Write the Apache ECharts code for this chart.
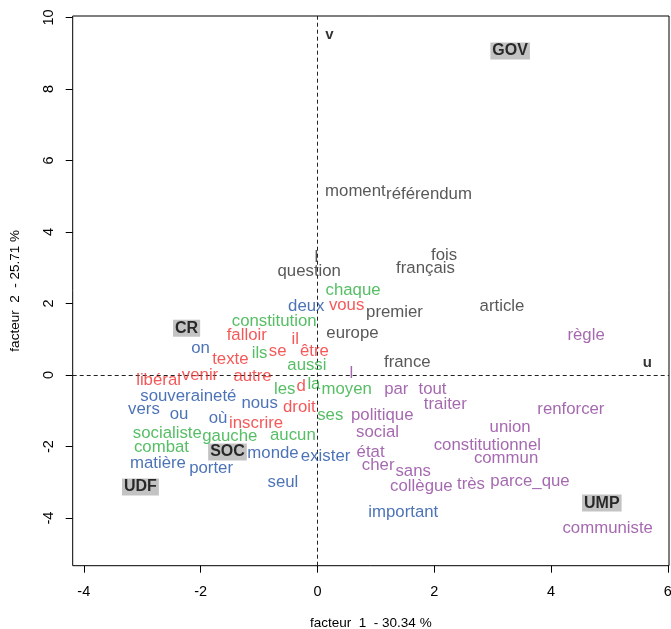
<!DOCTYPE html>
<html>
<head>
<meta charset="utf-8">
<script src="https://cdn.jsdelivr.net/npm/echarts@6/dist/echarts.min.js"></script>
<style>
html,body{margin:0;padding:0;background:#fff;}
#chart{width:671px;height:629px;}
</style>
</head>
<body>
<div id="chart"></div>
<script>
// Word labels (factor 1, factor 2)
const darkWords = ["moment","référendum","fois","français","question","premier","article","europe","france","l"];
const darkX =     [0.65, 1.91, 2.17, 1.85, -0.14, 1.32, 3.16, 0.60, 1.54, -0.02];
const darkY =     [5.17, 5.09, 3.38, 3.02, 2.94, 1.79, 1.96, 1.20, 0.39, 3.33];

const greenWords = ["chaque","constitution","ils","aussi","les","la","moyen","ses","socialiste","gauche","aucun","combat"];
const greenX =     [0.61, -0.74, -0.99, -0.18, -0.56, -0.06, 0.50, 0.22, -2.57, -1.50, -0.42, -2.67];
const greenY =     [2.41, 1.54, 0.64, 0.31, -0.36, -0.22, -0.36, -1.09, -1.59, -1.68, -1.65, -1.99];

const redWords = ["vous","falloir","il","se","être","texte","libéral","venir","autre","d","droit","inscrire"];
const redX =     [0.50, -1.21, -0.38, -0.68, -0.05, -1.49, -2.72, -2.01, -1.11, -0.28, -0.31, -1.05];
const redY =     [1.99, 1.15, 1.03, 0.70, 0.70, 0.48, -0.11, 0.03, 0.00, -0.28, -0.87, -1.31];

const blueWords = ["deux","on","souveraineté","nous","vers","ou","où","monde","exister","matière","porter","seul","important"];
const blueX =     [-0.19, -2.00, -2.21, -0.99, -2.97, -2.37, -1.70, -0.76, 0.14, -2.73, -1.82, -0.59, 1.47];
const blueY =     [1.96, 0.78, -0.56, -0.76, -0.92, -1.06, -1.17, -2.15, -2.24, -2.43, -2.57, -2.97, -3.80];

const purpleWords = ["l","règle","par","tout","traiter","renforcer","politique","social","union","constitutionnel","commun","état","cher","sans","collègue","très","parce_que","communiste"];
const purpleX =     [0.58, 4.60, 1.35, 1.97, 2.19, 4.34, 1.11, 1.03, 3.30, 2.91, 3.23, 0.91, 1.04, 1.64, 1.78, 2.63, 3.64, 4.97];
const purpleY =     [0.08, 1.15, -0.36, -0.36, -0.78, -0.92, -1.09, -1.57, -1.43, -1.93, -2.29, -2.13, -2.49, -2.66, -3.08, -3.02, -2.94, -4.25];

// Groups (parties)
const groupNames = ["GOV","CR","SOC","UDF","UMP"];
const groupX =     [3.30, -2.24, -1.54, -3.03, 4.87];
const groupY =     [9.06, 1.31, -2.15, -3.13, -3.58];

// Axis markers
const axisMarkNames = ["v","u"];
const axisMarkX = [0.205, 5.65];
const axisMarkY = [9.54, 0.36];

const xTicks = [-4, -2, 0, 2, 4, 6];
const yTicks = [-4, -2, 0, 2, 4, 6, 8, 10];
const xTitle = "facteur  1  - 30.34 %";
const yTitle = "facteur  2  - 25.71 %";

const FONT = "'Liberation Sans', Arial, sans-serif";

function pts(names, xs, ys) {
  return names.map((n, i) => ({ name: n, value: [xs[i], ys[i]] }));
}
function wordSeries(names, xs, ys, color) {
  return {
    type: 'scatter',
    symbolSize: 0,
    silent: true,
    data: pts(names, xs, ys),
    label: {
      show: true, position: 'inside', formatter: p => p.name, offset: [0, 1],
      color: color, fontSize: 16.8, fontFamily: FONT
    },
    z: 5
  };
}

const chart = echarts.init(document.getElementById('chart'), null, { renderer: 'canvas' });
chart.setOption({
  animation: false,
  backgroundColor: '#fff',
  grid: { left: 72.7, right: 2, top: 16, bottom: 63.3, show: true, borderColor: '#000', borderWidth: 1, containLabel: false, outerBoundsMode: 'none' },
  xAxis: {
    type: 'value', min: -4.19, max: 6.02, position: 'bottom',
    splitLine: { show: false },
    axisLine: { show: false, onZero: false },
    axisTick: { show: true, inside: false, length: 7, customValues: xTicks, lineStyle: { color: '#000' } },
    axisLabel: { show: true, customValues: xTicks, margin: 19, color: '#000', fontSize: 14.5, fontFamily: FONT },
    name: xTitle, nameLocation: 'middle', nameGap: 51,
    nameTextStyle: { color: '#000', fontSize: 13.5, fontFamily: FONT }
  },
  yAxis: {
    type: 'value', min: -5.33, max: 10.04, position: 'left',
    splitLine: { show: false },
    axisLine: { show: false, onZero: false },
    axisTick: { show: true, inside: false, length: 7, customValues: yTicks, lineStyle: { color: '#000' } },
    axisLabel: { show: true, customValues: yTicks, rotate: 90, margin: 16, color: '#000', fontSize: 14.5, fontFamily: FONT },
    name: yTitle, nameLocation: 'middle', nameGap: 50, nameRotate: 90,
    nameTextStyle: { color: '#000', fontSize: 13.5, fontFamily: FONT }
  },
  series: [
    {
      type: 'scatter', symbolSize: 0, data: [], silent: true,
      markLine: {
        silent: true, symbol: 'none', animation: false,
        label: { show: false },
        lineStyle: { color: '#222', width: 1, type: [4, 3] },
        data: [{ xAxis: 0 }, { yAxis: 0 }]
      }
    },
    wordSeries(darkWords, darkX, darkY, '#2e2e2e'),
    wordSeries(greenWords, greenX, greenY, '#2cae3e'),
    wordSeries(redWords, redX, redY, '#f22e2e'),
    wordSeries(blueWords, blueX, blueY, '#2150a5'),
    wordSeries(purpleWords, purpleX, purpleY, '#8f449c'),
    {
      type: 'scatter', symbolSize: 0, silent: true,
      data: pts(axisMarkNames, axisMarkX, axisMarkY),
      label: { show: true, position: 'inside', formatter: p => p.name, offset: [0, 1], color: '#000', fontSize: 15, fontWeight: 'bold', fontFamily: FONT },
      z: 6
    },
    {
      type: 'scatter', symbolSize: 0, silent: true,
      data: pts(groupNames, groupX, groupY),
      label: {
        show: true, position: 'inside', formatter: p => p.name,
        color: '#000', fontSize: 16, fontWeight: 'bold', fontFamily: FONT,
        backgroundColor: '#b4b4b4', padding: [1, 2, 0, 2]
      },
      z: 7
    }
  ]
});
</script>
</body>
</html>
